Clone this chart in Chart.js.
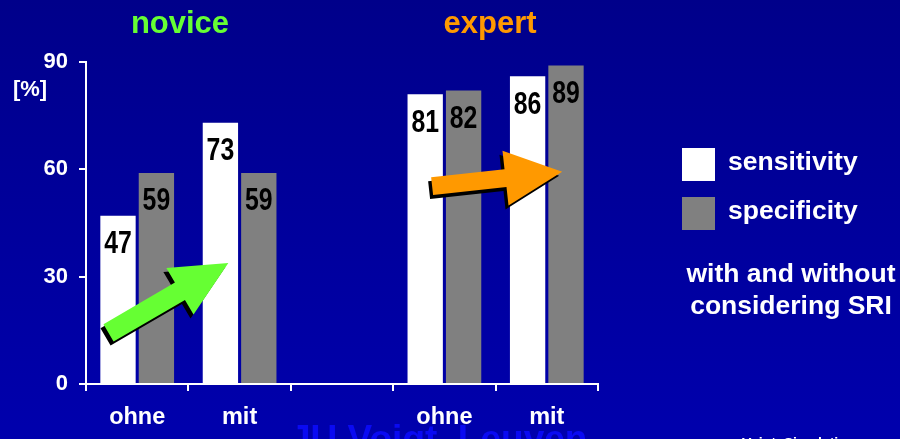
<!DOCTYPE html>
<html lang="en">
<head>
    <meta charset="UTF-8">
    <title>Sensitivity and specificity</title>
    <style>
        body { margin: 0; background: #000099; }
        canvas { display: block; }
    </style>
    <script src="https://cdn.jsdelivr.net/npm/chart.js"></script>
</head>
<body>
    <canvas id="barChart" width="900" height="439"></canvas>

    <script>
        // categories: novice ohne/mit, gap, expert ohne/mit
        var categories = ['ohne', 'mit', '', 'ohne', 'mit'];
        var sensitivity = [47, 73, null, 81, 86];
        var specificity = [59, 59, null, 82, 89];
        var yTicks = [0, 30, 60, 90];

        var font = '"Liberation Sans", Arial, sans-serif';

        // arrows given as [category index, value] for tail and tip
        var arrows = [
            { from: [-0.28, 14.3], to: [0.89, 33.8], shaft: 20, headW: 54, headL: 56, color: '#66ff33' },
            { from: [2.88, 55.3], to: [4.15, 59.3], shaft: 18, headW: 55, headL: 57, color: '#ff9900' }
        ];

        function arrowPath(ctx, x1, y1, x2, y2, shaft, headW, headL) {
            var dx = x2 - x1, dy = y2 - y1;
            var len = Math.sqrt(dx * dx + dy * dy);
            var ux = dx / len, uy = dy / len;
            var nx = -uy, ny = ux;
            var bx = x2 - ux * headL, by = y2 - uy * headL;
            ctx.beginPath();
            ctx.moveTo(x1 + nx * shaft / 2, y1 + ny * shaft / 2);
            ctx.lineTo(bx + nx * shaft / 2, by + ny * shaft / 2);
            ctx.lineTo(bx + nx * headW / 2, by + ny * headW / 2);
            ctx.lineTo(x2, y2);
            ctx.lineTo(bx - nx * headW / 2, by - ny * headW / 2);
            ctx.lineTo(bx - nx * shaft / 2, by - ny * shaft / 2);
            ctx.lineTo(x1 - nx * shaft / 2, y1 - ny * shaft / 2);
            ctx.closePath();
        }

        var slideBackground = {
            id: 'slideBackground',
            beforeDraw: function (chart) {
                var ctx = chart.ctx;
                var g = ctx.createLinearGradient(0, 0, 0, chart.height);
                g.addColorStop(0, '#00008a');
                g.addColorStop(1, '#0000ad');
                ctx.save();
                ctx.fillStyle = g;
                ctx.fillRect(0, 0, chart.width, chart.height);

                // faint footer watermark
                ctx.fillStyle = '#0a0af2';
                ctx.font = 'bold 37px ' + font;
                ctx.textAlign = 'left';
                ctx.textBaseline = 'alphabetic';
                ctx.fillText('JU Voigt, Leuven', 290, 451);

                ctx.fillStyle = '#ffffff';
                ctx.font = 'bold 14px ' + font;
                ctx.fillText('Voigt, Simulation', 742, 448);
                ctx.restore();
            }
        };

        var annotations = {
            id: 'annotations',
            afterDatasetsDraw: function (chart) {
                var ctx = chart.ctx;
                var xs = chart.scales.x, ys = chart.scales.y;
                ctx.save();

                // value labels inside the top of each bar
                ctx.fillStyle = '#000000';
                ctx.font = 'bold 31px ' + font;
                ctx.textAlign = 'center';
                ctx.textBaseline = 'middle';
                chart.data.datasets.forEach(function (ds, i) {
                    chart.getDatasetMeta(i).data.forEach(function (bar, j) {
                        if (ds.data[j] === null) return;
                        ctx.save();
                        ctx.translate(bar.x, bar.y + 29);
                        ctx.scale(0.8, 1);
                        ctx.fillText(String(ds.data[j]), 0, 0);
                        ctx.restore();
                    });
                });

                // arrows with a black drop shadow
                arrows.forEach(function (a) {
                    var x1 = xs.getPixelForValue(a.from[0]), y1 = ys.getPixelForValue(a.from[1]);
                    var x2 = xs.getPixelForValue(a.to[0]), y2 = ys.getPixelForValue(a.to[1]);
                    ctx.fillStyle = '#000000';
                    arrowPath(ctx, x1 - 3, y1 + 4, x2 - 3, y2 + 4, a.shaft, a.headW, a.headL);
                    ctx.fill();
                    ctx.fillStyle = a.color;
                    arrowPath(ctx, x1, y1, x2, y2, a.shaft, a.headW, a.headL);
                    ctx.fill();
                });

                // group titles
                ctx.textAlign = 'center';
                ctx.textBaseline = 'alphabetic';
                ctx.font = 'bold 31px ' + font;
                ctx.fillStyle = '#66ff33';
                ctx.fillText('novice', 180, 33);
                ctx.fillStyle = '#ff9900';
                ctx.fillText('expert', 490, 33);

                // unit label
                ctx.fillStyle = '#ffffff';
                ctx.font = 'bold 22px ' + font;
                ctx.textBaseline = 'middle';
                ctx.fillText('[%]', 30, 90);

                // legend
                ctx.textAlign = 'left';
                ctx.font = 'bold 26.5px ' + font;
                chart.data.datasets.forEach(function (ds, i) {
                    var top = 148 + i * 49;
                    ctx.fillStyle = ds.backgroundColor;
                    ctx.fillRect(682, top, 33, 33);
                    ctx.fillStyle = '#ffffff';
                    ctx.fillText(ds.label, 728, top + 15);
                });

                ctx.textAlign = 'center';
                ctx.fillText('with and without', 791, 275);
                ctx.fillText('considering SRI', 791, 307);
                ctx.restore();
            }
        };

        var ctx = document.getElementById('barChart').getContext('2d');
        var chart = new Chart(ctx, {
            type: 'bar',
            data: {
                labels: categories,
                datasets: [{
                    label: 'sensitivity',
                    data: sensitivity,
                    backgroundColor: '#ffffff',
                    categoryPercentage: 0.75,
                    barPercentage: 0.92
                }, {
                    label: 'specificity',
                    data: specificity,
                    backgroundColor: '#808080',
                    categoryPercentage: 0.75,
                    barPercentage: 0.92
                }]
            },
            options: {
                responsive: false,
                animation: false,
                layout: {
                    padding: { left: 0, top: 62, right: 302, bottom: 0 }
                },
                plugins: {
                    legend: { display: false },
                    tooltip: { enabled: false }
                },
                scales: {
                    x: {
                        afterFit: function (scale) { scale.height = 55; },
                        grid: {
                            drawOnChartArea: false,
                            color: '#ffffff',
                            lineWidth: 2,
                            tickLength: 7
                        },
                        border: { color: '#ffffff', width: 2 },
                        ticks: {
                            color: '#ffffff',
                            padding: 12,
                            font: { family: font, size: 23.5, weight: 'bold' }
                        }
                    },
                    y: {
                        min: 0,
                        max: 90,
                        afterFit: function (scale) { scale.width = 86; },
                        afterBuildTicks: function (scale) {
                            scale.ticks = yTicks.map(function (v) { return { value: v }; });
                        },
                        grid: {
                            drawOnChartArea: false,
                            color: '#ffffff',
                            lineWidth: 2,
                            tickLength: 7
                        },
                        border: { color: '#ffffff', width: 2 },
                        ticks: {
                            color: '#ffffff',
                            padding: 11,
                            font: { family: font, size: 22, weight: 'bold' }
                        }
                    }
                }
            },
            plugins: [slideBackground, annotations]
        });
    </script>
</body>
</html>
